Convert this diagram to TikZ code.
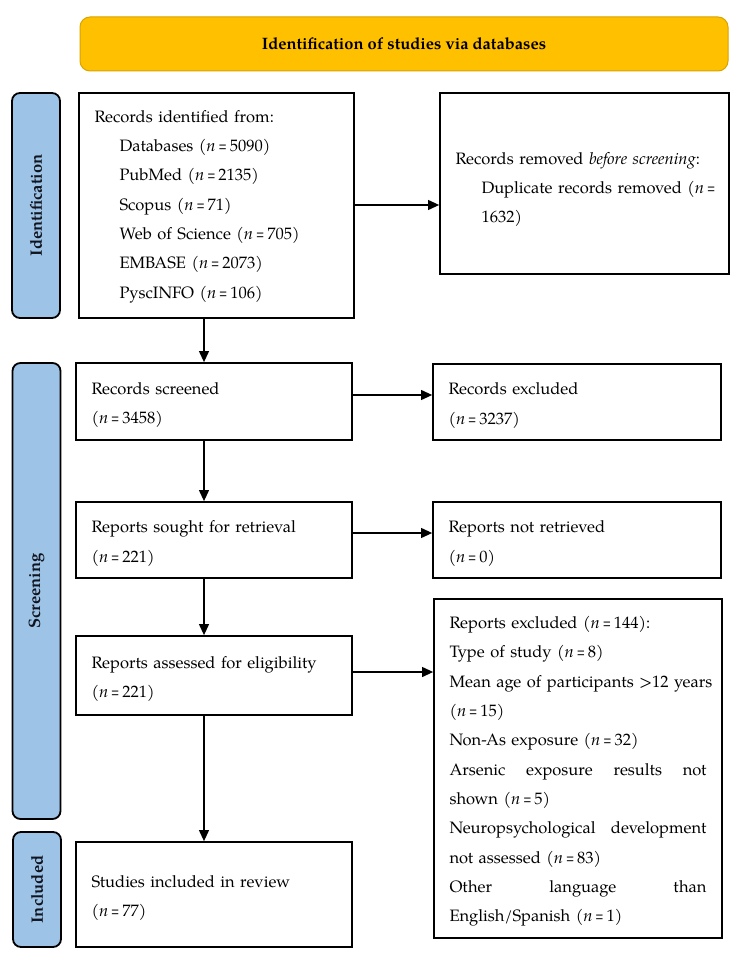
\documentclass[tikz,border=0pt]{standalone}
\usepackage{fontspec}
\setmainfont{texgyrepagella}[Extension=.otf, UprightFont=*-regular, BoldFont=*-bold, ItalicFont=*-italic, BoldItalicFont=*-bolditalic]
\usetikzlibrary{arrows.meta}
\definecolor{bannerfill}{HTML}{FFC000}
\definecolor{bannerline}{HTML}{D9A300}
\definecolor{sidefill}{HTML}{9DC3E6}
\definecolor{sidetext}{HTML}{10141F}
\newcommand{\fullline}[1]{\makebox[257pt][l]{#1}}
\newcommand{\nEq}{\textit{n}\hspace{3pt}\scalebox{0.65}[1]{=}\hspace{3pt}}
\newcommand{\topgap}[1]{\rule{0pt}{#1}}
\tikzset{
  every node/.style={font=\fontsize{16.5}{29.3}\selectfont},
  banner/.style={draw=bannerline, line width=1pt, fill=bannerfill, rounded corners=10pt, minimum width=648pt, minimum height=54pt, inner sep=0pt},
  sidebox/.style={draw=black, line width=1.8pt, fill=sidefill, rounded corners=8pt, minimum width=48pt, inner sep=0pt},
  sidelab/.style={rotate=90, text=sidetext, font=\fontsize{16.5}{20}\selectfont\bfseries},
  flowbox/.style={draw=black, line width=1.8pt, fill=white, align=left, inner xsep=15.5pt, inner ysep=0pt},
  arr/.style={line width=1.1pt, -{Triangle[length=11pt,width=10pt]}}
}
\begin{document}
\begin{tikzpicture}[x=1pt,y=-1pt]
\useasboundingbox (0,0) rectangle (738,957);
\fill[white] (0,0) rectangle (738,957);

\node[banner] (banner) at (404,44) {\bfseries Identification of studies via databases};

\node[sidebox, minimum height=225pt] (idside) at (36,205.5) {};
\node[sidelab] (idlab) at (idside.center) {Identification};
\node[sidebox, minimum height=456pt] (scrside) at (36.5,591) {};
\node[sidelab] (scrlab) at (scrside.center) {Screening};
\node[sidebox, minimum height=115pt] (incside) at (37,889.5) {};
\node[sidelab] (inclab) at (incside.center) {Included};

\node[flowbox, text width=244pt, minimum height=225pt] (box1) at (216.5,205.5) {\topgap{14pt}Records identified from:\\
\hspace*{25pt}Databases (\nEq 5090)\\
\hspace*{25pt}PubMed (\nEq 2135)\\
\hspace*{25pt}Scopus (\nEq 71)\\
\hspace*{25pt}Web of Science (\nEq 705)\\
\hspace*{25pt}EMBASE (\nEq 2073)\\
\hspace*{25pt}PyscINFO (\nEq 106)};

\node[flowbox, text width=258pt, minimum height=181pt] (removed) at (584.5,183.5) {\topgap{24pt}Records removed \textit{before screening}:\\
\hspace*{26pt}\mbox{Duplicate records removed (\nEq}\\
\hspace*{26pt}1632)};

\node[flowbox, text width=245pt, minimum height=77pt] (screened) at (214,401.5) {\topgap{19pt}Records screened\\(\nEq 3458)};
\node[flowbox, text width=257pt, minimum height=76pt] (excl1) at (577,402) {\topgap{19pt}Records excluded\\(\nEq 3237)};

\node[flowbox, text width=245pt, minimum height=76pt] (sought) at (214,540) {\topgap{19pt}Reports sought for retrieval\\(\nEq 221)};
\node[flowbox, text width=257pt, minimum height=76pt] (notret) at (577,540) {\topgap{19pt}Reports not retrieved\\(\nEq 0)};

\node[flowbox, text width=245pt, minimum height=79pt] (assessed) at (214,675.5) {\topgap{19pt}Reports assessed for eligibility\\(\nEq 221)};
\node[flowbox, text width=257pt, minimum height=339pt] (excl2) at (578,768.5) {\topgap{18pt}Reports excluded (\nEq 144):\\
Type of study (\nEq 8)\\
\fullline{Mean age of participants >12 years}\\
(\nEq 15)\\
Non-As exposure (\nEq 32)\\
\fullline{Arsenic\hfill exposure\hfill results\hfill not}\\
shown (\nEq 5)\\
\fullline{Neuropsychological\hfill development}\\
not assessed (\nEq 83)\\
\fullline{Other\hfill language\hfill than}\\
English/Spanish (\nEq 1)};

\node[flowbox, text width=245pt, minimum height=105pt] (included) at (214,894.5) {\topgap{19pt}Studies included in review\\(\nEq 77)};

% vertical arrows
\draw[arr] ([xshift=-12.5pt]box1.south) -- ([xshift=-12.5pt]box1.south |- screened.north);
\draw[arr] ([xshift=-10pt]screened.south) -- ([xshift=-10pt]screened.south |- sought.north);
\draw[arr] ([xshift=-10pt]sought.south) -- ([xshift=-10pt]sought.south |- assessed.north);
\draw[arr] ([xshift=-10pt]assessed.south) -- ([xshift=-10pt]assessed.south |- included.north);
% horizontal arrows
\draw[arr] ([yshift=0.5pt]box1.east) -- ([yshift=0.5pt]box1.east -| removed.west);
\draw[arr] ([yshift=6.5pt]screened.east) -- ([yshift=6.5pt]screened.east -| excl1.west);
\draw[arr] ([yshift=7pt]sought.east) -- ([yshift=7pt]sought.east -| notret.west);
\draw[arr] ([yshift=3.5pt]assessed.east) -- ([yshift=3.5pt]assessed.east -| excl2.west);
\end{tikzpicture}
\end{document}
